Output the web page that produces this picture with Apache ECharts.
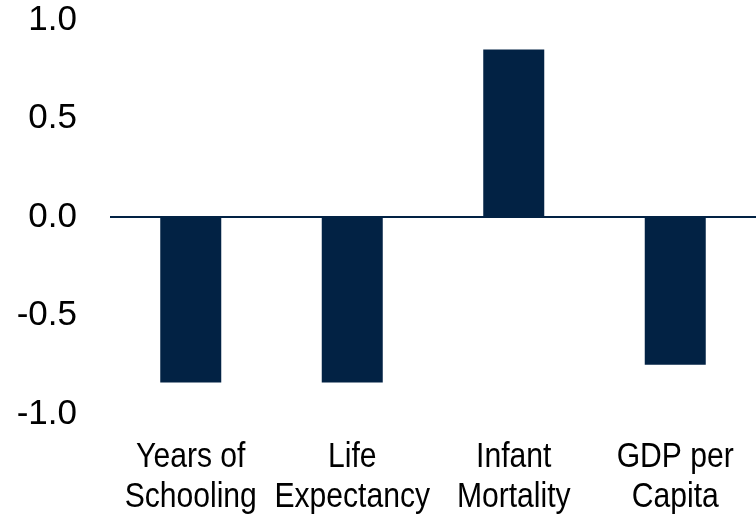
<!DOCTYPE html>
<html>
<head>
<meta charset="utf-8">
<script src="https://cdn.jsdelivr.net/npm/echarts@6/dist/echarts.min.js"></script>
<style>
html,body{margin:0;padding:0;background:#fff;}
#chart{width:756px;height:520px;}
</style>
</head>
<body>
<div id="chart"></div>
<script>
var categories = ['Years of\nSchooling', 'Life\nExpectancy', 'Infant\nMortality', 'GDP per\nCapita'];
var values = [-0.84, -0.84, 0.85, -0.75];
var yTicks = [-1.0, -0.5, 0.0, 0.5, 1.0];

var BAR_COLOR = '#022244';
var chart = echarts.init(document.getElementById('chart'), null, {renderer: 'canvas'});
chart.setOption({
  animation: false,
  backgroundColor: '#ffffff',
  grid: {left: 110, right: -3, top: 20, bottom: 106, containLabel: false},
  xAxis: {
    type: 'category',
    data: categories,
    axisLine: {show: false, onZero: false},
    axisTick: {show: false},
    axisLabel: {show: false},
    splitLine: {show: false}
  },
  yAxis: {
    type: 'value',
    min: yTicks[0],
    max: yTicks[yTicks.length - 1],
    interval: 0.5,
    axisLine: {show: false},
    axisTick: {show: false},
    splitLine: {show: false},
    axisLabel: {
      color: '#000',
      fontFamily: '"Liberation Sans", Arial, sans-serif',
      fontSize: 35,
      margin: 33,
      formatter: function (v) { return v.toFixed(1); }
    }
  },
  series: [{
    type: 'bar',
    data: values,
    barWidth: 61,
    itemStyle: {color: BAR_COLOR},
    markLine: {
      silent: true,
      symbol: 'none',
      label: {show: false},
      lineStyle: {color: BAR_COLOR, width: 2, type: 'solid'},
      data: [{yAxis: 0}]
    }
  }]
});

// Condensed category labels (real text), placed via the category axis scale
var bottomY = chart.convertToPixel({yAxisIndex: 0}, yTicks[0]);
var labels = categories.map(function (c, i) {
  var x = chart.convertToPixel({xAxisIndex: 0}, i);
  return {
    type: 'text',
    x: x,
    y: bottomY + 24,
    scaleX: 0.86,
    silent: true,
    style: {
      text: c,
      fill: '#000',
      font: '35px "Liberation Sans", Arial, sans-serif',
      lineHeight: 39.5,
      textAlign: 'center',
      textVerticalAlign: 'top'
    }
  };
});
chart.setOption({graphic: {elements: labels}});
</script>
</body>
</html>
